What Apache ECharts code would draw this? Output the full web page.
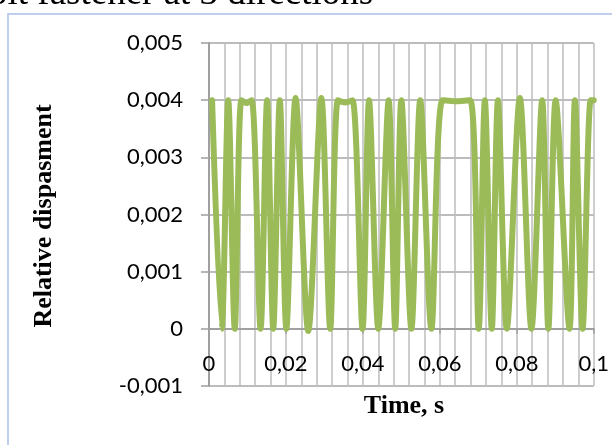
<!DOCTYPE html>
<html>
<head>
<meta charset="utf-8">
<script src="https://cdn.jsdelivr.net/npm/echarts@6/dist/echarts.min.js"></script>
<style>
html,body{margin:0;padding:0;background:#fff;}
#chart{width:612px;height:445px;}
</style>
</head>
<body>
<div id="chart"></div>
<script>
// Data (time in s, relative displacement)
const timeValues = [
  0.0008, 0.0033, 0.0050, 0.0067, 0.0084, 0.0097, 0.0111, 0.0134, 0.0151, 0.0167,
  0.0184, 0.0201, 0.0225, 0.0258, 0.0292, 0.0315, 0.0335, 0.0354, 0.0373, 0.0399,
  0.0416, 0.0440, 0.0467, 0.0484, 0.0500, 0.0526, 0.0549, 0.0578, 0.0607, 0.0643,
  0.0679, 0.0701, 0.0717, 0.0735, 0.0751, 0.0774, 0.0808, 0.0838, 0.0866, 0.0882,
  0.0901, 0.0937, 0.0951, 0.0971, 0.0992, 0.1000
];
const dispValues = [
  0.0040, 0.0000, 0.0040, 0.0000, 0.0040, 0.00395, 0.0040, 0.0000, 0.0040, 0.0000,
  0.0040, 0.0000, 0.00404, -0.00004, 0.00404, 0.0000, 0.0040, 0.00396, 0.0040, 0.0000,
  0.0040, 0.0000, 0.0040, 0.0000, 0.0040, 0.0000, 0.0040, 0.0000, 0.0040, 0.00398,
  0.0040, 0.0000, 0.0040, 0.0000, 0.0040, 0.0000, 0.00404, 0.0000, 0.0040, 0.0000,
  0.0040, 0.0000, 0.0040, 0.0000, 0.0040, 0.0040
];
const titleText = 'olt fastener at 3 directions';
const xTitle = 'Time, s';
const yTitle = 'Relative dispasment';

const fmt = v => String(+Number(v).toFixed(3)).replace('.', ',');

const chart = echarts.init(document.getElementById('chart'), null, {renderer: 'canvas'});
chart.setOption({
  animation: false,
  backgroundColor: '#ffffff',
  grid: {left: 209, right: 14, top: 43, bottom: 59, containLabel: false},
  xAxis: {
    type: 'value',
    min: 0, max: 0.1, interval: 0.02,
    position: 'bottom',
    offset: -57.2,
    axisLine: {show: true, onZero: false, lineStyle: {color: '#a0a0a0', width: 2}},
    axisTick: {show: true, length: 5, lineStyle: {color: '#a0a0a0', width: 1.5}},
    minorTick: {show: false, splitNumber: 5},
    splitLine: {show: true, lineStyle: {color: '#bdbdbd', width: 1.5}},
    minorSplitLine: {show: true, lineStyle: {color: '#bdbdbd', width: 1.5}},
    axisLabel: {
      formatter: fmt, margin: 24, color: '#000',
      fontFamily: 'Lato', fontSize: 22
    }
  },
  yAxis: {
    type: 'value',
    min: -0.001, max: 0.005, interval: 0.001,
    axisLine: {show: true, onZero: false, lineStyle: {color: '#a0a0a0', width: 2}},
    axisTick: {show: true, length: 8, lineStyle: {color: '#a0a0a0', width: 1.5}},
    splitLine: {show: true, lineStyle: {color: '#a6a6a6', width: 1.5}},
    axisLabel: {
      formatter: fmt, margin: 26, color: '#000',
      fontFamily: 'Lato', fontSize: 22
    }
  },
  series: [{
    type: 'line',
    data: timeValues.map((t, i) => [t, dispValues[i]]),
    smooth: 0.3,
    showSymbol: false,
    lineStyle: {color: '#9BBB59', width: 6, cap: 'round', join: 'round'},
    itemStyle: {color: '#9BBB59'}
  }],
  graphic: [
    {
      type: 'rect', silent: true, z: -1,
      shape: {x: 8, y: 14, width: 700, height: 500},
      style: {fill: null, stroke: '#A9BFE6', lineWidth: 1.5}
    },
    {
      type: 'text', silent: true,
      x: -11, y: -5.5,
      style: {
        text: titleText, fill: '#000',
        font: '37px "Liberation Serif"',
        align: 'left', verticalAlign: 'middle'
      }
    },
    {
      type: 'text', silent: true,
      x: 404, y: 406,
      style: {
        text: xTitle, fill: '#000',
        font: 'bold 26px "Liberation Serif"',
        align: 'center', verticalAlign: 'middle'
      }
    },
    {
      type: 'text', silent: true,
      x: 44, y: 216, rotation: Math.PI / 2,
      style: {
        text: yTitle, fill: '#000',
        font: 'bold 26px "Liberation Serif"',
        align: 'center', verticalAlign: 'middle'
      }
    }
  ]
});
</script>
</body>
</html>
